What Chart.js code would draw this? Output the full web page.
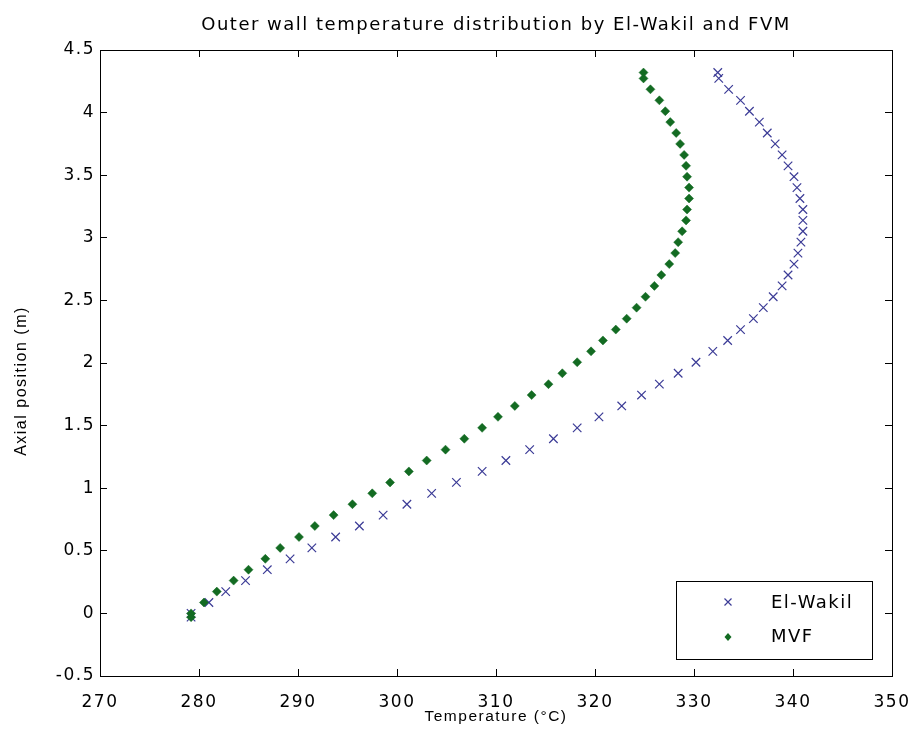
<!DOCTYPE html>
<html>
<head>
<meta charset="utf-8">
<script src="https://cdn.jsdelivr.net/npm/chart.js"></script>
<style>
  body { margin: 0; background: #fff; }
  #wrap { width: 914px; height: 743px; }
</style>
</head>
<body>
<div id="wrap"><canvas id="wallChart"></canvas></div>

<script>
    // axial positions (m), shared by both series
    const axialPos = [-0.03, 0, 0.087, 0.174, 0.262, 0.349, 0.436, 0.523, 0.610, 0.698,
        0.785, 0.872, 0.959, 1.046, 1.134, 1.221, 1.308, 1.395, 1.482, 1.570,
        1.657, 1.744, 1.831, 1.918, 2.006, 2.093, 2.180, 2.267, 2.354, 2.442,
        2.529, 2.616, 2.703, 2.790, 2.878, 2.965, 3.052, 3.139, 3.226, 3.314,
        3.401, 3.488, 3.575, 3.662, 3.750, 3.837, 3.924, 4.011, 4.098, 4.186,
        4.273, 4.32];

    // outer wall temperature (°C)
    const elWakilTemp = [279.2, 279.2, 281.0, 282.7, 284.7, 286.9, 289.2, 291.4, 293.8, 296.2,
        298.6, 301.0, 303.5, 306.0, 308.6, 311.0, 313.4, 315.8, 318.2, 320.4,
        322.7, 324.7, 326.5, 328.4, 330.2, 331.9, 333.4, 334.7, 336.0, 337.0,
        338.0, 338.9, 339.5, 340.1, 340.5, 340.8, 341.0, 341.0, 341.0, 340.7,
        340.4, 340.1, 339.5, 338.9, 338.2, 337.4, 336.6, 335.6, 334.7, 333.5,
        332.5, 332.4];

    const mvfTemp = [279.2, 279.2, 280.5, 281.8, 283.5, 285.0, 286.7, 288.2, 290.1, 291.7,
        293.6, 295.5, 297.5, 299.3, 301.2, 303.0, 304.9, 306.8, 308.6, 310.2,
        311.9, 313.6, 315.3, 316.7, 318.2, 319.6, 320.8, 322.1, 323.2, 324.2,
        325.1, 326.0, 326.7, 327.5, 328.1, 328.4, 328.8, 329.2, 329.3, 329.5,
        329.5, 329.3, 329.2, 329.0, 328.6, 328.2, 327.6, 327.1, 326.5, 325.6,
        324.9, 324.9];

    const xTicks = [270, 280, 290, 300, 310, 320, 330, 340, 350];
    const xTickLabels = ['270', '280', '290', '300', '310', '320', '330', '340', '350'];
    const yTicks = [-0.5, 0, 0.5, 1, 1.5, 2, 2.5, 3, 3.5, 4, 4.5];
    const yTickLabels = ['-0.5', '0', '0.5', '1', '1.5', '2', '2.5', '3', '3.5', '4', '4.5'];

    const seriesNames = ['El-Wakil', 'MVF'];
    const chartTitle = 'Outer wall temperature distribution by El-Wakil and FVM';
    const xTitle = 'Temperature (°C)';
    const yTitle = 'Axial position (m)';

    const blue = '#3b3b96';
    const green = '#136b22';

    function toPoints(temps) {
        return temps.map((t, i) => ({ x: t, y: axialPos[i] }));
    }

    // spacing for the wide matlab look
    const spacingPlugin = {
        id: 'spacing',
        beforeLayout(chart) { chart.ctx.letterSpacing = '1.5px'; },
        beforeDraw(chart) {
            const ctx = chart.ctx;
            ctx.save();
            ctx.fillStyle = '#fff';
            ctx.fillRect(0, 0, chart.width, chart.height);
            ctx.restore();
            ctx.letterSpacing = '1.5px';
        }
    };

    // title, y label and in-plot legend box
    const decorPlugin = {
        id: 'decor',
        afterDraw(chart) {
            const ctx = chart.ctx;
            const area = chart.chartArea;
            ctx.save();
            ctx.letterSpacing = '1.5px';
            ctx.fillStyle = '#000';
            ctx.font = '18px "DejaVu Sans"';
            ctx.textAlign = 'center';
            ctx.textBaseline = 'middle';
            ctx.fillText(chartTitle, (area.left + area.right) / 2, 25);

            ctx.save();
            ctx.translate(22, 381);
            ctx.rotate(-Math.PI / 2);
            ctx.font = '16px "Liberation Sans"';
            ctx.fillText(yTitle, 0, 0);
            ctx.restore();

            // legend
            const lx = 676, ly = 581, lw = 196, lh = 78;
            ctx.fillStyle = '#fff';
            ctx.fillRect(lx, ly, lw, lh);
            ctx.strokeStyle = '#000';
            ctx.lineWidth = 1;
            ctx.strokeRect(lx + 0.5, ly + 0.5, lw, lh);

            const mx = 728;
            ctx.strokeStyle = blue;
            ctx.lineWidth = 1.2;
            ctx.beginPath();
            ctx.moveTo(mx - 3.5, 602 - 3.5); ctx.lineTo(mx + 3.5, 602 + 3.5);
            ctx.moveTo(mx + 3.5, 602 - 3.5); ctx.lineTo(mx - 3.5, 602 + 3.5);
            ctx.stroke();

            ctx.fillStyle = green;
            ctx.beginPath();
            ctx.moveTo(mx, 637 - 4); ctx.lineTo(mx + 3.5, 637);
            ctx.lineTo(mx, 637 + 4); ctx.lineTo(mx - 3.5, 637);
            ctx.closePath();
            ctx.fill();

            ctx.fillStyle = '#000';
            ctx.font = '18px "DejaVu Sans"';
            ctx.textAlign = 'left';
            ctx.fillText(seriesNames[0], 771, 603);
            ctx.fillText(seriesNames[1], 771, 637);
            ctx.restore();
        }
    };

    const tickGrid = {
        drawOnChartArea: false,
        drawTicks: true,
        tickLength: -7,
        color: '#000',
        lineWidth: 1
    };
    const boxBorder = { display: true, color: '#000', width: 1 };

    new Chart(document.getElementById('wallChart'), {
        type: 'scatter',
        data: {
            datasets: [
                {
                    label: seriesNames[0],
                    data: toPoints(elWakilTemp),
                    pointStyle: 'crossRot',
                    pointRadius: 6,
                    borderColor: blue,
                    backgroundColor: blue,
                    borderWidth: 1.2,
                    order: 2
                },
                {
                    label: seriesNames[1],
                    data: toPoints(mvfTemp),
                    pointStyle: 'rectRot',
                    pointRadius: 4.5,
                    borderColor: green,
                    backgroundColor: green,
                    borderWidth: 0.5,
                    order: 1
                }
            ]
        },
        options: {
            responsive: true,
            maintainAspectRatio: false,
            animation: false,
            layout: { padding: { left: 0, right: 22, top: 50, bottom: 0 } },
            plugins: {
                legend: { display: false },
                title: { display: false },
                tooltip: { enabled: false }
            },
            scales: {
                x: {
                    type: 'linear',
                    position: 'bottom',
                    min: 270,
                    max: 350,
                    afterBuildTicks: s => { s.ticks = xTicks.map(v => ({ value: v })); },
                    afterFit: s => { s.height = 67; s.paddingLeft = 0; s.paddingRight = 0; },
                    grid: tickGrid,
                    border: boxBorder,
                    ticks: {
                        autoSkip: false,
                        maxRotation: 0,
                        padding: 23,
                        color: '#000',
                        font: { family: 'DejaVu Sans', size: 17 },
                        callback: (v, i) => xTickLabels[i]
                    },
                    title: {
                        display: true,
                        text: xTitle,
                        color: '#000',
                        font: { family: 'Liberation Sans', size: 15.5 },
                        padding: { top: 0, bottom: 17 }
                    }
                },
                y: {
                    type: 'linear',
                    position: 'left',
                    min: -0.5,
                    max: 4.5,
                    afterBuildTicks: s => { s.ticks = yTicks.map(v => ({ value: v })); },
                    afterFit: s => { s.width = 100; s.paddingTop = 0; s.paddingBottom = 0; },
                    grid: tickGrid,
                    border: boxBorder,
                    ticks: {
                        autoSkip: false,
                        padding: 12,
                        color: '#000',
                        font: { family: 'DejaVu Sans', size: 17 },
                        callback: (v, i) => yTickLabels[i]
                    }
                },
                x2: {
                    type: 'linear',
                    position: 'top',
                    min: 270,
                    max: 350,
                    afterBuildTicks: s => { s.ticks = xTicks.map(v => ({ value: v })); },
                    afterFit: s => { s.height = 0; s.paddingLeft = 0; s.paddingRight = 0; },
                    grid: tickGrid,
                    border: boxBorder,
                    ticks: { display: false }
                },
                y2: {
                    type: 'linear',
                    position: 'right',
                    min: -0.5,
                    max: 4.5,
                    afterBuildTicks: s => { s.ticks = yTicks.map(v => ({ value: v })); },
                    afterFit: s => { s.width = 0; s.paddingTop = 0; s.paddingBottom = 0; },
                    grid: tickGrid,
                    border: boxBorder,
                    ticks: { display: false }
                }
            }
        },
        plugins: [spacingPlugin, decorPlugin]
    });
</script>
</body>
</html>
